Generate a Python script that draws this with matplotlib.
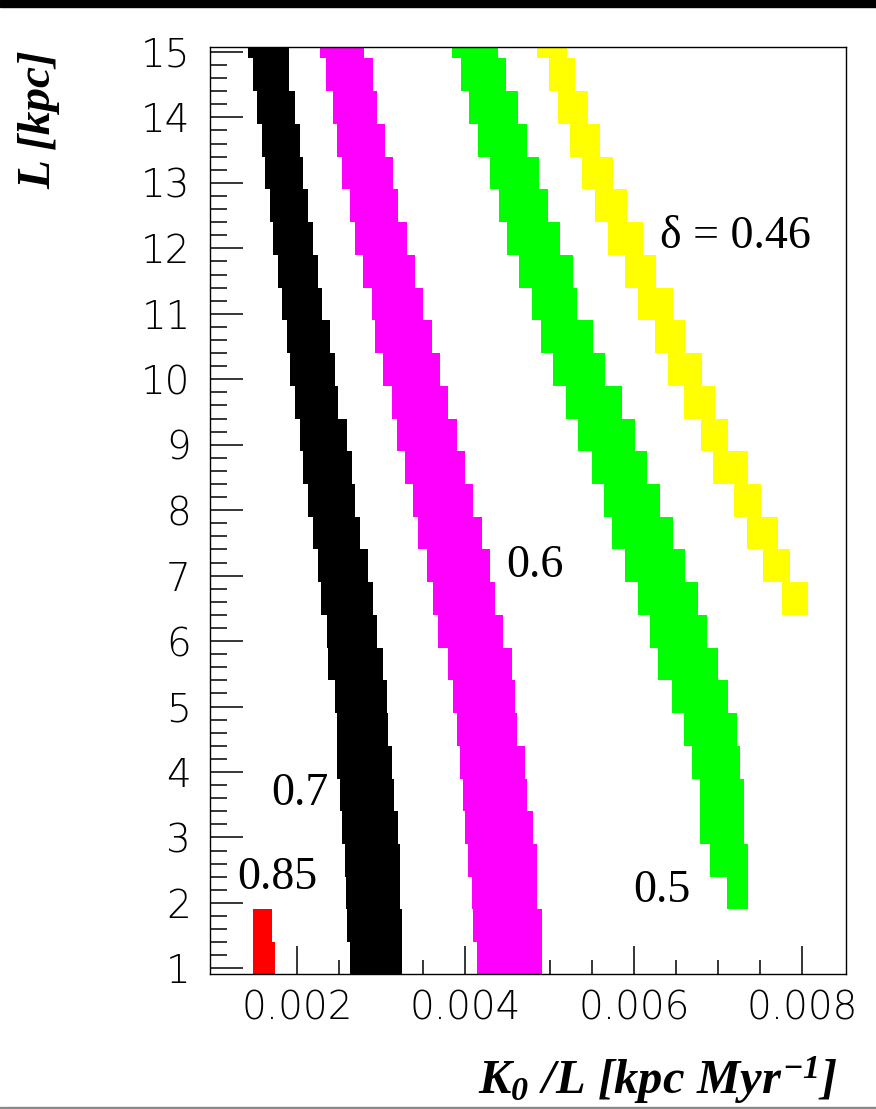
import matplotlib
matplotlib.use("Agg")
import matplotlib.pyplot as plt
from matplotlib.patches import Rectangle
from matplotlib.ticker import MultipleLocator, FixedLocator, FormatStrFormatter

# ─── 1. Bins in L (lower edge of each 0.5 kpc row) ─────────────────────────
L_bins = [0.9, 1.4, 1.9, 2.4, 2.9, 3.4, 3.9, 4.4, 4.9, 5.4, 5.9, 6.4, 6.9, 7.4,
          7.9, 8.4, 8.9, 9.4, 9.9, 10.4, 10.9, 11.4, 11.9, 12.4, 12.9, 13.4,
          13.9, 14.4, 14.9]
L_step = 0.5

# ─── 2. Allowed K0/L range per row, one band per delta ─────────────────────
# delta = 0.85 (rows 0.9, 1.4)
red_left  = [0.001481, 0.001481]
red_right = [0.001739, 0.001699]

# delta = 0.7 (all rows)
black_left = [0.002629, 0.002590, 0.002582, 0.002570, 0.002530, 0.002511,
              0.002479, 0.002471, 0.002451, 0.002372, 0.002352, 0.002281,
              0.002253, 0.002194, 0.002135, 0.002075, 0.002036, 0.001976,
              0.001917, 0.001877, 0.001818, 0.001778, 0.001719, 0.001679,
              0.001620, 0.001580, 0.001521, 0.001481, 0.001422]
black_right = [0.003245, 0.003245, 0.003223, 0.003223, 0.003203, 0.003152,
               0.003124, 0.003084, 0.003065, 0.003025, 0.002946, 0.002906,
               0.002847, 0.002748, 0.002689, 0.002649, 0.002590, 0.002491,
               0.002451, 0.002392, 0.002293, 0.002253, 0.002194, 0.002135,
               0.002075, 0.002036, 0.001976, 0.001909, 0.001909]

# delta = 0.6 (all rows)
magenta_left = [0.004133, 0.004094, 0.004074, 0.004034, 0.003995, 0.003975,
                0.003935, 0.003896, 0.003856, 0.003797, 0.003678, 0.003619,
                0.003540, 0.003441, 0.003381, 0.003282, 0.003183, 0.003124,
                0.003025, 0.002926, 0.002887, 0.002788, 0.002689, 0.002629,
                0.002530, 0.002471, 0.002431, 0.002344, 0.002273]
magenta_right = [0.004905, 0.004905, 0.004846, 0.004846, 0.004806, 0.004735,
                 0.004707, 0.004608, 0.004589, 0.004549, 0.004450, 0.004351,
                 0.004292, 0.004193, 0.004094, 0.003995, 0.003896, 0.003797,
                 0.003698, 0.003599, 0.003500, 0.003401, 0.003302, 0.003203,
                 0.003144, 0.003045, 0.002946, 0.002898, 0.002796]

# delta = 0.5 (rows 1.9 .. 14.9)
green_left = [0.007102, 0.006904, 0.006785, 0.006785, 0.006694, 0.006599,
              0.006449, 0.006290, 0.006192, 0.006045, 0.005895, 0.005736,
              0.005649, 0.005499, 0.005341, 0.005190, 0.005044, 0.004897,
              0.004794, 0.004636, 0.004498, 0.004399, 0.004292, 0.004145,
              0.004042, 0.003947, 0.003844]
green_right = [0.007359, 0.007359, 0.007312, 0.007312, 0.007260, 0.007221,
               0.007122, 0.007003, 0.006864, 0.006765, 0.006607, 0.006469,
               0.006310, 0.006152, 0.006013, 0.005855, 0.005657, 0.005519,
               0.005330, 0.005281, 0.005123, 0.004976, 0.004874, 0.004727,
               0.004628, 0.004478, 0.004383]

# delta = 0.46 (rows 6.4 .. 14.9)
yellow_left = [0.007755, 0.007537, 0.007339, 0.007193, 0.006944, 0.006797,
               0.006599, 0.006401, 0.006251, 0.006045, 0.005895, 0.005697,
               0.005538, 0.005380, 0.005242, 0.005095, 0.004992, 0.004846]
yellow_right = [0.008072, 0.007854, 0.007708, 0.007510, 0.007359, 0.007122,
                0.006963, 0.006805, 0.006607, 0.006469, 0.006259, 0.006112,
                0.005915, 0.005756, 0.005598, 0.005459, 0.005301, 0.005202]

bands = [
    (L_bins[:2],  red_left,     red_right,     '#ff0000'),
    (L_bins,      black_left,   black_right,   '#000000'),
    (L_bins,      magenta_left, magenta_right, '#ff00ff'),
    (L_bins[2:],  green_left,   green_right,   '#00ff00'),
    (L_bins[11:], yellow_left,  yellow_right,  '#ffff00'),
]

# ─── 3. Band labels ────────────────────────────────────────────────────────
label_text = ['\u03b4 = 0.46', '0.6', '0.5', '0.7', '0.85']
label_x    = [0.00631, 0.00449, 0.005993, 0.00170, 0.001288]
label_y    = [12.00, 6.98, 2.01, 3.49, 2.22]

x_minor = [0.0015, 0.0025, 0.003, 0.0035, 0.0045, 0.005, 0.0055,
           0.0065, 0.007, 0.0075]

# ─── 4. Figure ─────────────────────────────────────────────────────────────
plt.rcParams['mathtext.fontset'] = 'custom'
plt.rcParams['mathtext.rm'] = 'Liberation Serif:bold:italic'
plt.rcParams['mathtext.it'] = 'Liberation Serif:bold:italic'
plt.rcParams['mathtext.bf'] = 'Liberation Serif:bold:italic'

fig = plt.figure(figsize=(8.76, 11.09), dpi=100)
ax = fig.add_axes([210 / 876, 1 - 974.3 / 1109, 636 / 876, (974.3 - 46.7) / 1109])

for rows, left, right, col in bands:
    widths = [r - l for l, r in zip(left, right)]
    ax.barh(rows, widths, left=left, height=L_step, align='edge',
            color=col, linewidth=0, antialiased=False, zorder=2)

for txt, x, y in zip(label_text, label_x, label_y):
    ax.text(x, y, txt, fontsize=33, family='Liberation Serif',
            ha='left', va='baseline', zorder=3)

ax.set_xlim(0.000967, 0.008519)
ax.set_ylim(0.91, 15.08)

ax.set_axisbelow(True)
ax.xaxis.set_major_locator(MultipleLocator(0.002))
ax.xaxis.set_minor_locator(FixedLocator(x_minor))
ax.xaxis.set_major_formatter(FormatStrFormatter('%.3f'))
ax.yaxis.set_major_locator(MultipleLocator(1))
ax.yaxis.set_minor_locator(MultipleLocator(0.2))
ax.yaxis.set_major_formatter(FormatStrFormatter('%d'))

ax.tick_params(axis='both', which='both', direction='in', top=False,
               right=False, width=1.1, colors='black')
ax.tick_params(axis='y', which='major', length=24, pad=14)
ax.tick_params(axis='y', which='minor', length=12)
ax.tick_params(axis='x', which='major', length=20, pad=11)
ax.tick_params(axis='x', which='minor', length=10)

for lab in ax.get_xticklabels() + ax.get_yticklabels():
    lab.set_family('DejaVu Sans')
    lab.set_fontweight('light')
    lab.set_fontsize(28)

for sp in ax.spines.values():
    sp.set_linewidth(1.0)

# axis titles, placed the ROOT way (y at top end, x at right end)
fig.text(39 / 876, 1 - 50 / 1109, 'L [kpc]', rotation=90, ha='center',
         va='top', fontsize=34, family='Liberation Serif',
         fontstyle='italic', fontweight='bold')
fig.text(838 / 876, 1 - 1094 / 1109, r'$K_0\ /L\ [kpc\ Myr^{-1}]$',
         ha='right', va='baseline', fontsize=35)

# frame strips at the top and bottom edges of the picture
fig.add_artist(Rectangle((0, 1 - 7 / 1109), 1, 7 / 1109,
                         transform=fig.transFigure, color='black', zorder=10))
fig.add_artist(Rectangle((0, 0), 1, 2 / 1109, transform=fig.transFigure,
                         color='#8a8a8a', zorder=10))

fig.savefig('out.png', dpi=100)
